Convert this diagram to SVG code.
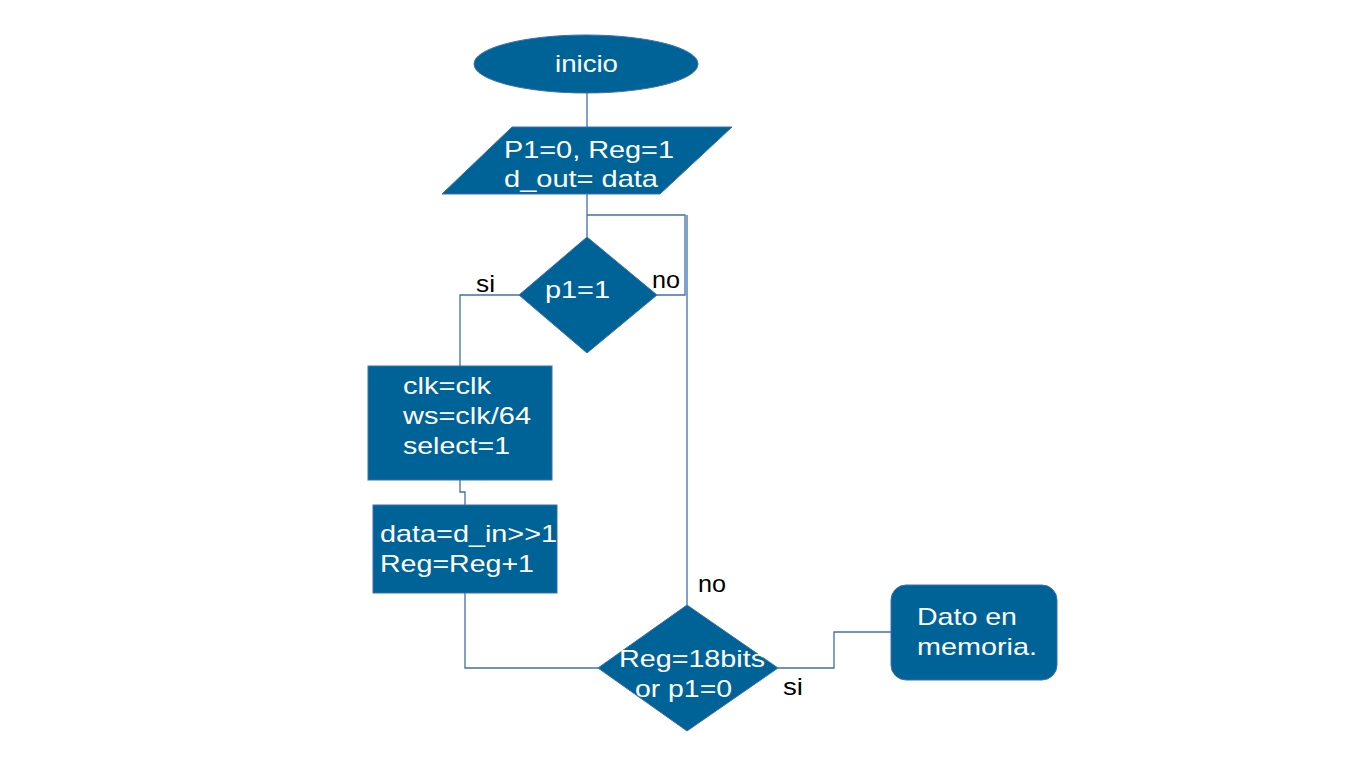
<svg xmlns="http://www.w3.org/2000/svg" width="1366" height="768" viewBox="0 0 1366 768">
<style>
.shape{fill:#006398;stroke:#3f6fae;stroke-width:1}
.conn{fill:none;stroke:#3f6fae;stroke-width:1.3}
.t{font-family:"Liberation Sans",Arial,sans-serif;font-size:24px;fill:#ffffff}
.l{font-family:"Liberation Sans",Arial,sans-serif;font-size:24px;fill:#000000}
</style>
<rect width="1366" height="768" fill="#ffffff"/>
<g id="connectors">
<path class="conn" d="M587,93 V127"/>
<path class="conn" d="M587,194 V237"/>
<path class="conn" d="M657,295 H685 V215 H587"/>
<path class="conn" d="M687,605 V215"/>
<path class="conn" d="M519,295 H460 V366"/>
<path class="conn" d="M460,480 V492 H465 V505"/>
<path class="conn" d="M465,593 V668 H598"/>
<path class="conn" d="M778,668 H834 V632 H891"/>
</g>
<g id="inicio">
<ellipse class="shape" cx="586" cy="64" rx="112" ry="29"/>
<text class="t" x="555" y="72" textLength="63" lengthAdjust="spacingAndGlyphs">inicio</text>
</g>
<g id="init">
<polygon class="shape" points="512,127 732,127 660,194 442,194"/>
<text class="t" x="504" y="158" textLength="170" lengthAdjust="spacingAndGlyphs">P1=0, Reg=1</text>
<text class="t" x="504" y="187" textLength="154" lengthAdjust="spacingAndGlyphs">d_out= data</text>
</g>
<g id="cond1">
<polygon class="shape" points="587,237 657,295 587,353 519,295"/>
<text class="t" x="545" y="298" textLength="65" lengthAdjust="spacingAndGlyphs">p1=1</text>
</g>
<g id="box1">
<rect class="shape" x="368" y="366" width="184" height="114"/>
<text class="t" x="403" y="394" textLength="88" lengthAdjust="spacingAndGlyphs">clk=clk</text>
<text class="t" x="403" y="424" textLength="128" lengthAdjust="spacingAndGlyphs">ws=clk/64</text>
<text class="t" x="403" y="454" textLength="107" lengthAdjust="spacingAndGlyphs">select=1</text>
</g>
<g id="box2">
<rect class="shape" x="373" y="505" width="184" height="88"/>
<text class="t" x="380" y="542" textLength="177" lengthAdjust="spacingAndGlyphs">data=d_in&gt;&gt;1</text>
<text class="t" x="380" y="572" textLength="154" lengthAdjust="spacingAndGlyphs">Reg=Reg+1</text>
</g>
<g id="cond2">
<polygon class="shape" points="687,605 778,668 687,731 598,668"/>
<text class="t" x="619" y="667" textLength="146" lengthAdjust="spacingAndGlyphs">Reg=18bits</text>
<text class="t" x="635" y="697" textLength="97" lengthAdjust="spacingAndGlyphs">or p1=0</text>
</g>
<g id="fin">
<rect class="shape" x="891" y="585" width="166" height="95" rx="15" ry="15"/>
<text class="t" x="917" y="625" textLength="100" lengthAdjust="spacingAndGlyphs">Dato en</text>
<text class="t" x="917" y="655" textLength="120" lengthAdjust="spacingAndGlyphs">memoria.</text>
</g>
<g id="labels">
<text class="l" x="476" y="292" textLength="19" lengthAdjust="spacingAndGlyphs">si</text>
<text class="l" x="652" y="288" textLength="28" lengthAdjust="spacingAndGlyphs">no</text>
<text class="l" x="698" y="592" textLength="28" lengthAdjust="spacingAndGlyphs">no</text>
<text class="l" x="783" y="695" textLength="20" lengthAdjust="spacingAndGlyphs">si</text>
</g>
</svg>
